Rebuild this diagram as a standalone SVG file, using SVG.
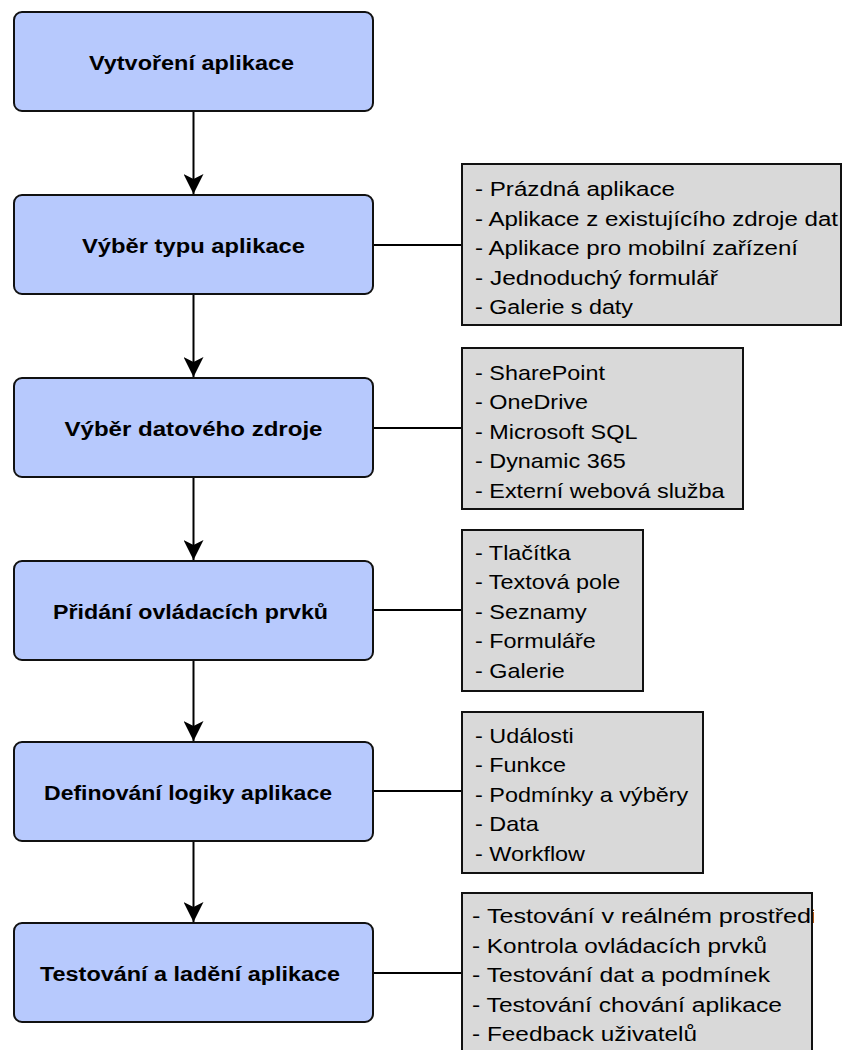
<svg xmlns="http://www.w3.org/2000/svg" width="842" height="1050" viewBox="0 0 842 1050">
  <style>
    .step rect { fill: #b7c9fd; stroke: #111; stroke-width: 2; }
    .step text { font-family: "Liberation Sans", Arial, sans-serif; font-weight: bold; font-size: 20px; fill: #000; text-anchor: middle; }
    .note rect { fill: #d9d9d9; stroke: #111; stroke-width: 2; }
    .note text { font-family: "Liberation Sans", Arial, sans-serif; font-size: 20px; fill: #000; }
    .flow { stroke: #000; stroke-width: 2; fill: none; }
  </style>
  <defs>
    <marker id="arrow" viewBox="0 0 20 20" refX="20" refY="10" markerWidth="20" markerHeight="20" markerUnits="userSpaceOnUse" orient="auto">
      <path d="M0,0 L20,10 L0,20 L5,10 Z" fill="#000"/>
    </marker>
    <clipPath id="clip-test">
      <rect x="462" y="893" width="352" height="160"/>
    </clipPath>
  </defs>
  <rect width="842" height="1050" fill="#fff"/>

  <!-- connectors -->
  <g id="connectors">
    <line class="flow" x1="193.5" y1="111" x2="193.5" y2="194" marker-end="url(#arrow)"/>
    <line class="flow" x1="193.5" y1="294" x2="193.5" y2="377" marker-end="url(#arrow)"/>
    <line class="flow" x1="193.5" y1="477" x2="193.5" y2="560" marker-end="url(#arrow)"/>
    <line class="flow" x1="193.5" y1="660" x2="193.5" y2="741" marker-end="url(#arrow)"/>
    <line class="flow" x1="193.5" y1="841" x2="193.5" y2="922" marker-end="url(#arrow)"/>
    <line class="flow" x1="373" y1="245" x2="462" y2="245"/>
    <line class="flow" x1="373" y1="428" x2="462" y2="428"/>
    <line class="flow" x1="373" y1="610" x2="462" y2="610"/>
    <line class="flow" x1="373" y1="791" x2="462" y2="791"/>
    <line class="flow" x1="373" y1="973" x2="462" y2="973"/>
  </g>

  <!-- process steps -->
  <g id="step-create" class="step">
    <rect x="14" y="12" width="359" height="99" rx="8"/>
    <text x="191.5" y="70" textLength="205" lengthAdjust="spacingAndGlyphs">Vytvoření aplikace</text>
  </g>
  <g id="step-type" class="step">
    <rect x="14" y="195" width="359" height="99" rx="8"/>
    <text x="193.5" y="253" textLength="223" lengthAdjust="spacingAndGlyphs">Výběr typu aplikace</text>
  </g>
  <g id="step-source" class="step">
    <rect x="14" y="378" width="359" height="99" rx="8"/>
    <text x="193.5" y="436" textLength="258" lengthAdjust="spacingAndGlyphs">Výběr datového zdroje</text>
  </g>
  <g id="step-controls" class="step">
    <rect x="14" y="561" width="359" height="99" rx="8"/>
    <text x="190.5" y="619" textLength="275" lengthAdjust="spacingAndGlyphs">Přidání ovládacích prvků</text>
  </g>
  <g id="step-logic" class="step">
    <rect x="14" y="742" width="359" height="99" rx="8"/>
    <text x="188" y="800" textLength="288" lengthAdjust="spacingAndGlyphs">Definování logiky aplikace</text>
  </g>
  <g id="step-test" class="step">
    <rect x="14" y="923" width="359" height="99" rx="8"/>
    <text x="190" y="981" textLength="300" lengthAdjust="spacingAndGlyphs">Testování a ladění aplikace</text>
  </g>

  <!-- detail notes -->
  <g id="note-type" class="note">
    <rect x="462" y="164" width="379" height="161"/>
    <text x="475" y="196" textLength="200" lengthAdjust="spacingAndGlyphs">- Prázdná aplikace</text>
    <text x="475" y="225.5" textLength="363" lengthAdjust="spacingAndGlyphs">- Aplikace z existujícího zdroje dat</text>
    <text x="475" y="255" textLength="323" lengthAdjust="spacingAndGlyphs">- Aplikace pro mobilní zařízení</text>
    <text x="475" y="284.5" textLength="243" lengthAdjust="spacingAndGlyphs">- Jednoduchý formulář</text>
    <text x="475" y="314" textLength="158" lengthAdjust="spacingAndGlyphs">- Galerie s daty</text>
  </g>
  <g id="note-source" class="note">
    <rect x="462" y="348" width="281" height="161"/>
    <g transform="translate(475 0) scale(1.17 1) translate(-475 0)">
      <text x="475" y="380">- SharePoint</text>
      <text x="475" y="409.5">- OneDrive</text>
      <text x="475" y="439">- Microsoft SQL</text>
      <text x="475" y="468.5">- Dynamic 365</text>
      <text x="475" y="498">- Externí webová služba</text>
    </g>
  </g>
  <g id="note-controls" class="note">
    <rect x="462" y="530" width="181" height="161"/>
    <g transform="translate(475 0) scale(1.17 1) translate(-475 0)">
      <text x="475" y="560">- Tlačítka</text>
      <text x="475" y="589.5">- Textová pole</text>
      <text x="475" y="619">- Seznamy</text>
      <text x="475" y="648.5">- Formuláře</text>
      <text x="475" y="678">- Galerie</text>
    </g>
  </g>
  <g id="note-logic" class="note">
    <rect x="462" y="712" width="241" height="161"/>
    <g transform="translate(475 0) scale(1.17 1) translate(-475 0)">
      <text x="475" y="743">- Události</text>
      <text x="475" y="772.5">- Funkce</text>
      <text x="475" y="802">- Podmínky a výběry</text>
      <text x="475" y="831.5">- Data</text>
      <text x="475" y="861">- Workflow</text>
    </g>
  </g>
  <g id="note-test" class="note">
    <rect x="462" y="893" width="350" height="161"/>
    <g clip-path="url(#clip-test)">
      <text x="472" y="923" textLength="346" lengthAdjust="spacingAndGlyphs">- Testování v reálném prostředí</text>
      <text x="472" y="952.5" textLength="295" lengthAdjust="spacingAndGlyphs">- Kontrola ovládacích prvků</text>
      <text x="472" y="982" textLength="298" lengthAdjust="spacingAndGlyphs">- Testování dat a podmínek</text>
      <text x="472" y="1011.5" textLength="310" lengthAdjust="spacingAndGlyphs">- Testování chování aplikace</text>
      <text x="472" y="1041" textLength="225" lengthAdjust="spacingAndGlyphs">- Feedback uživatelů</text>
    </g>
  </g>
</svg>
